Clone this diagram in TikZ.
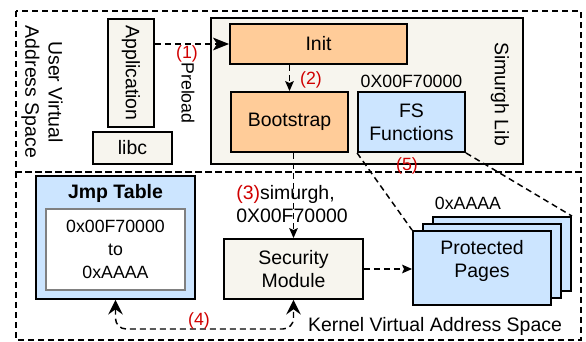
\documentclass[tikz,border=0pt]{standalone}
\usepackage{fontspec}
\setmainfont{Liberation Sans}
\usepackage{xcolor}
\usepackage{tikz}
\usetikzlibrary{arrows.meta,positioning}
\definecolor{orangefill}{HTML}{FFCC99}
\definecolor{bluefill}{HTML}{CCE5FF}
\definecolor{creamfill}{HTML}{F7F5EE}
\definecolor{stepred}{HTML}{D00000}
\newcommand{\bigtxt}{\fontsize{14.6pt}{17.5pt}\selectfont}
\newcommand{\smalltxt}{\fontsize{13.3pt}{17pt}\selectfont}
\tikzset{>={Stealth[length=7.5pt,width=6.5pt,inset=1.5pt]}}
\tikzset{cream box/.style={draw,fill=creamfill,line width=1.4pt,inner sep=0pt,align=center,font=\bigtxt},
            orange box/.style={cream box,fill=orangefill},
            blue box/.style={cream box,fill=bluefill},
            page/.style={blue box,minimum width=103.5pt,minimum height=55.5pt},
            region/.style={line width=1.2pt,dash pattern=on 4.5pt off 3pt},
            flow/.style={line width=1.1pt,dash pattern=on 4.5pt off 3pt},
            step label/.style={text=stepred,inner sep=0pt,font=\smalltxt},
            small label/.style={inner sep=0pt,font=\smalltxt},
            big label/.style={inner sep=0pt,align=center,font=\bigtxt},
            }
\begin{document}
\begin{tikzpicture}[x=0.75pt,y=-0.75pt]
    \useasboundingbox (0,0) rectangle (586,342);

    % address spaces
    \draw[region] (16,11) rectangle (581,172);
    \draw[region] (16,172) rectangle (581,340);
    \node[big label,rotate=-90] (uvas) at (42,92) {User Virtual\\Address Space};
    \node[big label] (kvas) at (435,326) {Kernel Virtual Address Space};

    % user side
    \node[cream box,rotate=-90,minimum width=81pt,minimum height=34.5pt] (app) at (131,73) {Application};
    \node[cream box,minimum width=59.25pt,minimum height=24pt] (libc) at (132.5,148) {libc};
    \node[cream box,minimum width=234pt,minimum height=109.5pt] (lib) at (367,91) {};
    \node[big label,rotate=-90] (libname) at (500,94) {Simurgh Lib};
    \node[orange box,minimum width=132.75pt,minimum height=30pt] (init) at (318.5,44) {Init};
    \node[orange box,minimum width=87.75pt,minimum height=45pt] (boot) at (289.5,122) {Bootstrap};
    \node[blue box,minimum width=80.25pt,minimum height=45pt] (fs) at (411.5,122) {FS\\Functions};
    \node[small label,above=2pt of fs] (fsaddr) {0X00F70000};

    % kernel side
    \node[blue box,minimum width=119.25pt,minimum height=92.25pt] (jmp) at (115.5,237.5) {};
    \node[big label,font=\bigtxt\bfseries] (jmptitle) at (115.5,193) {Jmp Table};
    \node[draw=gray,fill=white,line width=1.4pt,inner sep=0pt,align=center,font=\smalltxt,
          minimum width=104.25pt,minimum height=60.75pt] (range) at (115.5,249.5) {0x00F70000\\to\\0xAAAA};
    \node[cream box,minimum width=104.25pt,minimum height=45pt] (sec) at (293.5,269) {Security\\Module};
    \node[page] (page3) at (502,254) {};
    \node[page] (page2) at (492,261) {};
    \node[page] (page1) at (482,268) {};
    \node[big label] (pagestext) at (482,261) {Protected\\Pages};
    \node[small label] (pagesaddr) at (468,203) {0xAAAA};

    % steps
    \draw[flow,-{Stealth[length=12pt,width=9.5pt,inset=3pt]}] (init.west -| app.north) -- (init.west);
    \node[step label] (s1) at (187,54) {(1)};
    \node[small label,rotate=-90] (preload) at (188,93) {Preload};

    \draw[flow,->] (boot.north |- init.south) -- (boot.north);
    \node[step label] (s2) at (311,80) {(2)};

    \draw[flow,->] (sec.north |- boot.south) -- (sec.north);
    \node[big label,align=left,anchor=west] (s3) at (236,204) {\textcolor{stepred}{(3)}simurgh,\\0X00F70000};

    \coordinate (loop) at (200,329);
    \draw[flow,rounded corners=8pt,{Stealth[length=11pt,width=11pt,inset=4pt]}-{Stealth[length=11pt,width=11pt,inset=4pt]}]
        (jmp.south) |- (loop) -| (sec.south);
    \node[step label] (s4) at (199,321) {(4)};

    \draw[flow,->] (sec.east) -- (sec.east -| page1.west);

    \draw[flow] (fs.south west) -- (page1.north west);
    \draw[flow] (fs.south east) -- (page3.north east);
    \node[step label] (s5) at (407,166) {(5)};

\end{tikzpicture}
\end{document}
